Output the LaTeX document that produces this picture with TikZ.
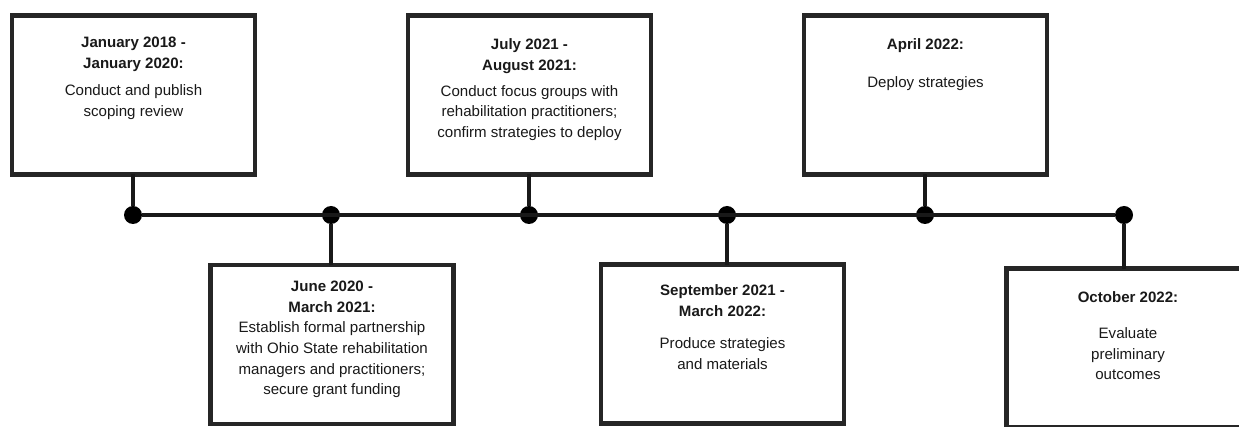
\documentclass[tikz,border=0pt]{standalone}
\usepackage{fontspec}
\setmainfont{Liberation Sans}
\usetikzlibrary{positioning}
\tikzset{
  box/.style  = {draw=black!85, line width=3.4pt, fill=white, outer sep=0pt,
                 minimum width=182pt, minimum height=119pt},
  wire/.style = {line width=3pt, black!90},
  dot/.style  = {circle, fill=black, inner sep=0pt, minimum size=13.5pt},
  txt/.style  = {align=center, inner sep=0pt, text=black!90,
                 font=\fontsize{11.3}{15.5}\selectfont},
}
\begin{document}
\begin{tikzpicture}[x=0.75pt,y=-0.75pt]
  \clip (0,0) rectangle (1239,427);
  % boxes
  \foreach \n/\bx/\by/\top/\gap/\head/\body in {
      1/133.5/95/16pt/5pt/{\textbf{January 2018 -}\\\textbf{January 2020:}}/{Conduct and publish\\scoping review},
      2/332/344.5/11.7pt/0pt/{\textbf{June 2020 -}\\\textbf{March 2021:}}/{Establish formal partnership\\with Ohio State rehabilitation\\managers and practitioners;\\secure grant funding},
      3/529.5/95/17.2pt/3.8pt/{\textbf{July 2021 -}\\\textbf{August 2021:}}/{Conduct focus groups with\\rehabilitation practitioners;\\confirm strategies to deploy},
      4/722.5/344/15pt/8.5pt/{\textbf{September 2021 -}\\\textbf{March 2022:}}/{Produce strategies\\and materials},
      5/925.5/95/17.2pt/12.5pt/{\textbf{April 2022:}}/{Deploy strategies},
      6/1128/348/17.3pt/11.3pt/{\textbf{October 2022:}}/{Evaluate\\preliminary\\outcomes}}
  {
    \node[box] (b\n) at (\bx,\by) {};
    \node[txt, below=\top] at (b\n.north) {\head\\[\gap]\body};
  }
  % timeline
  \foreach \n/\x in {1/133,2/331,3/529,4/727,5/925,6/1124}
    \node[dot] (d\n) at (\x,215) {};
  \draw[wire] (d1) -- (d6);
  \foreach \n/\an in {1/south,2/north,3/south,4/north,5/south,6/north}
    \draw[wire] (d\n) -- (d\n |- b\n.\an);
\end{tikzpicture}
\end{document}
